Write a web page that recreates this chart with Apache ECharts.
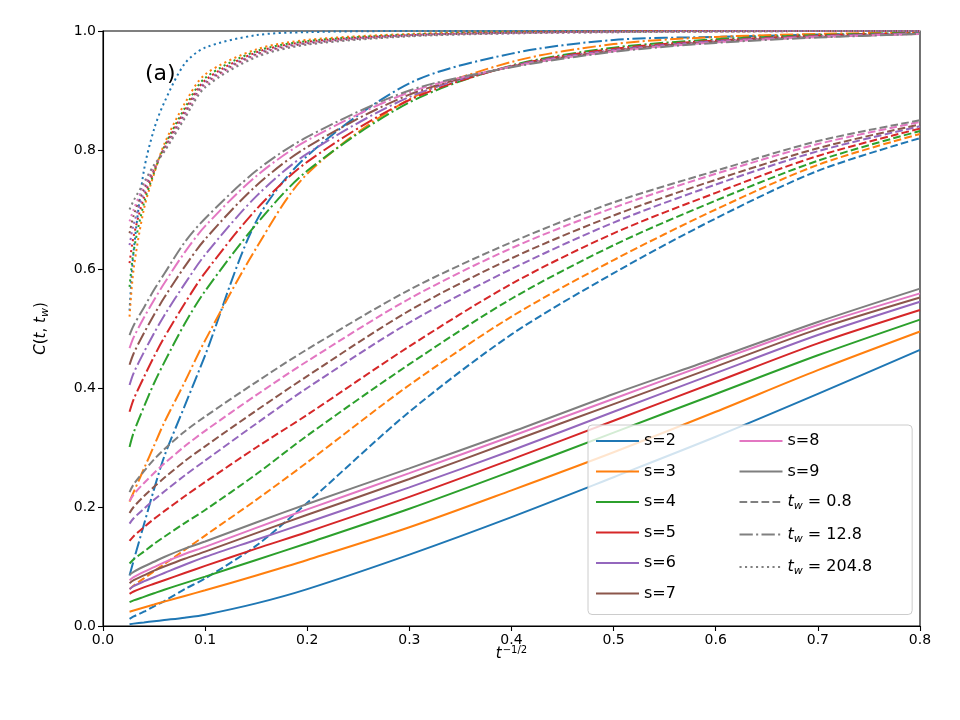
<!DOCTYPE html>
<html>
<head>
<meta charset="utf-8">
<script src="https://cdn.jsdelivr.net/npm/echarts@6/dist/echarts.min.js"></script>
<style>
  html, body { margin: 0; background: #fff; }
  #chart { width: 960px; height: 720px; }
</style>
</head>
<body>
<div id="chart"></div>
<script>
// t^(-1/2) sample points shared by every curve
const xs = [0.026, 0.03, 0.04, 0.05, 0.06, 0.08, 0.1, 0.15, 0.2, 0.3, 0.4, 0.5, 0.6, 0.7, 0.8];

const sNames = ["s=2", "s=3", "s=4", "s=5", "s=6", "s=7", "s=8", "s=9"];
const twNames = ["t_w = 0.8", "t_w = 12.8", "t_w = 204.8"];
const colors = ["#1f77b4", "#ff7f0e", "#2ca02c", "#d62728", "#9467bd", "#8c564b", "#e377c2", "#7f7f7f"];

// solid curves, one row per s
const solidRows = [
  [0.003, 0.004, 0.006, 0.008, 0.010, 0.014, 0.019, 0.038, 0.062, 0.120, 0.183, 0.250, 0.318, 0.390, 0.464],
  [0.024, 0.026, 0.031, 0.036, 0.041, 0.0505, 0.060, 0.085, 0.111, 0.166, 0.228, 0.292, 0.360, 0.430, 0.495],
  [0.040, 0.043, 0.049, 0.055, 0.061, 0.072, 0.083, 0.111, 0.139, 0.197, 0.260, 0.325, 0.390, 0.455, 0.515],
  [0.054, 0.058, 0.065, 0.071, 0.077, 0.089, 0.101, 0.130, 0.158, 0.217, 0.280, 0.345, 0.410, 0.475, 0.531],
  [0.062, 0.067, 0.075, 0.082, 0.089, 0.103, 0.116, 0.145, 0.174, 0.233, 0.295, 0.360, 0.425, 0.489, 0.545],
  [0.072, 0.077, 0.085, 0.093, 0.100, 0.113, 0.125, 0.156, 0.187, 0.247, 0.310, 0.373, 0.436, 0.499, 0.552],
  [0.077, 0.082, 0.091, 0.099, 0.107, 0.121, 0.133, 0.165, 0.196, 0.257, 0.319, 0.382, 0.445, 0.506, 0.559],
  [0.086, 0.091, 0.100, 0.108, 0.116, 0.130, 0.142, 0.174, 0.205, 0.265, 0.326, 0.390, 0.450, 0.511, 0.567]
];

// t_w = 0.8 (dashed)
const tw08Rows = [
  [0.012, 0.016, 0.024, 0.033, 0.042, 0.062, 0.080, 0.135, 0.207, 0.360, 0.490, 0.593, 0.685, 0.765, 0.820],
  [0.062, 0.068, 0.080, 0.092, 0.104, 0.128, 0.152, 0.212, 0.275, 0.405, 0.520, 0.615, 0.700, 0.775, 0.827],
  [0.105, 0.112, 0.125, 0.138, 0.150, 0.173, 0.195, 0.255, 0.320, 0.440, 0.550, 0.640, 0.715, 0.782, 0.832],
  [0.143, 0.151, 0.166, 0.180, 0.193, 0.218, 0.242, 0.300, 0.355, 0.470, 0.575, 0.660, 0.728, 0.790, 0.836],
  [0.172, 0.181, 0.197, 0.212, 0.226, 0.253, 0.278, 0.340, 0.400, 0.510, 0.600, 0.678, 0.742, 0.798, 0.840],
  [0.190, 0.200, 0.218, 0.234, 0.249, 0.277, 0.302, 0.362, 0.420, 0.530, 0.618, 0.690, 0.750, 0.803, 0.843],
  [0.210, 0.221, 0.240, 0.257, 0.273, 0.302, 0.328, 0.388, 0.445, 0.550, 0.635, 0.703, 0.760, 0.810, 0.847],
  [0.225, 0.238, 0.260, 0.280, 0.297, 0.327, 0.352, 0.410, 0.465, 0.565, 0.645, 0.712, 0.765, 0.815, 0.850]
];

// t_w = 12.8 (dash-dot)
const tw128Rows = [
  [0.085, 0.110, 0.170, 0.230, 0.285, 0.370, 0.455, 0.680, 0.790, 0.912, 0.962, 0.985, 0.990, 0.994, 0.996],
  [0.209, 0.225, 0.264, 0.303, 0.342, 0.410, 0.480, 0.635, 0.760, 0.885, 0.948, 0.978, 0.990, 0.995, 0.998],
  [0.301, 0.325, 0.368, 0.408, 0.443, 0.508, 0.563, 0.675, 0.765, 0.880, 0.942, 0.972, 0.986, 0.993, 0.997],
  [0.360, 0.381, 0.418, 0.453, 0.485, 0.542, 0.594, 0.700, 0.780, 0.884, 0.941, 0.970, 0.984, 0.992, 0.996],
  [0.405, 0.425, 0.460, 0.492, 0.522, 0.575, 0.624, 0.722, 0.794, 0.889, 0.941, 0.968, 0.983, 0.991, 0.996],
  [0.439, 0.458, 0.492, 0.523, 0.552, 0.604, 0.650, 0.740, 0.805, 0.893, 0.940, 0.967, 0.982, 0.990, 0.995],
  [0.467, 0.485, 0.518, 0.548, 0.576, 0.628, 0.672, 0.756, 0.816, 0.897, 0.940, 0.966, 0.981, 0.990, 0.995],
  [0.489, 0.505, 0.535, 0.565, 0.592, 0.645, 0.685, 0.765, 0.822, 0.900, 0.939, 0.965, 0.980, 0.989, 0.995]
];

// t_w = 204.8 (dotted)
const tw2048Rows = [
  [0.530, 0.630, 0.765, 0.835, 0.880, 0.945, 0.972, 0.993, 0.998, 1.000, 1.000, 1.000, 1.000, 1.000, 1.000],
  [0.520, 0.600, 0.700, 0.760, 0.810, 0.878, 0.927, 0.969, 0.985, 0.995, 0.998, 0.999, 1.000, 1.000, 1.000],
  [0.570, 0.630, 0.710, 0.762, 0.806, 0.870, 0.921, 0.966, 0.983, 0.994, 0.998, 0.999, 1.000, 1.000, 1.000],
  [0.610, 0.655, 0.720, 0.765, 0.804, 0.866, 0.917, 0.964, 0.982, 0.993, 0.997, 0.999, 1.000, 1.000, 1.000],
  [0.640, 0.675, 0.728, 0.768, 0.802, 0.862, 0.914, 0.962, 0.980, 0.993, 0.997, 0.999, 1.000, 1.000, 1.000],
  [0.660, 0.690, 0.735, 0.770, 0.800, 0.859, 0.911, 0.960, 0.979, 0.992, 0.997, 0.999, 0.999, 1.000, 1.000],
  [0.680, 0.700, 0.740, 0.772, 0.798, 0.856, 0.908, 0.958, 0.978, 0.992, 0.996, 0.998, 0.999, 1.000, 1.000],
  [0.700, 0.715, 0.745, 0.775, 0.797, 0.853, 0.905, 0.956, 0.977, 0.991, 0.996, 0.998, 0.999, 1.000, 1.000]
];

const FONT = "DejaVu Sans";
const dashes = {
  solid: "solid",
  dashed: [7.7, 3.3],
  dashdot: [13.3, 3.3, 2.1, 3.3],
  dotted: [2.1, 3.4]
};

const groups = [
  { rows: solidRows, dash: dashes.solid, tag: "" },
  { rows: tw08Rows, dash: dashes.dashed, tag: twNames[0] },
  { rows: tw128Rows, dash: dashes.dashdot, tag: twNames[1] },
  { rows: tw2048Rows, dash: dashes.dotted, tag: twNames[2] }
];

const series = [];
sNames.forEach((s, i) => {
  groups.forEach((g) => {
    series.push({
      type: "line",
      name: g.tag ? s + " " + g.tag : s,
      data: xs.map((x, k) => [x, g.rows[i][k]]),
      symbol: "none",
      smooth: 0.3,
      color: colors[i],
      lineStyle: { color: colors[i], width: 2, type: g.dash, cap: "butt" },
      z: 2
    });
  });
});
// grey entries for the t_w legend rows
[dashes.dashed, dashes.dashdot, dashes.dotted].forEach((d, j) => {
  series.push({
    type: "line",
    name: twNames[j],
    data: [],
    symbol: "none",
    color: "#808080",
    lineStyle: { color: "#808080", width: 2, type: d, cap: "butt" }
  });
});

const chart = echarts.init(document.getElementById("chart"), null, { renderer: "canvas" });

const richLegend = {
  i: { fontSize: 16, fontStyle: "italic", fontFamily: FONT, color: "#000", lineHeight: 20 },
  n: { fontSize: 16, fontFamily: FONT, color: "#000", lineHeight: 20 },
  s: { fontSize: 16, fontFamily: FONT, color: "#000", lineHeight: 20, width: 80 },
  sub: { fontSize: 11, fontStyle: "italic", fontFamily: FONT, color: "#000", verticalAlign: "bottom" }
};

const option = {
  animation: false,
  backgroundColor: "#fff",
  textStyle: { fontFamily: FONT },
  grid: {
    left: 103, right: 40, top: 31, bottom: 94,
    show: true, borderColor: "#000", borderWidth: 1.1, backgroundColor: "transparent"
  },
  xAxis: {
    type: "value",
    min: 0, max: 0.8, interval: 0.1,
    axisLine: { lineStyle: { color: "#000", width: 1.1 } },
    axisTick: { length: 5, lineStyle: { color: "#000", width: 1.1 } },
    axisLabel: { color: "#000", fontSize: 14, fontFamily: FONT, margin: 7, formatter: (v) => v.toFixed(1) },
    splitLine: { show: false },
    name: "{i|t}{sup|−1/2}",
    nameLocation: "middle",
    nameGap: 19,
    nameMoveOverlap: false,
    nameTextStyle: {
      rich: {
        i: { fontSize: 15, fontStyle: "italic", fontFamily: FONT, color: "#000", lineHeight: 18 },
        sup: { fontSize: 10, fontFamily: FONT, color: "#000", verticalAlign: "top", padding: [0, 0, 0, 1] }
      }
    }
  },
  yAxis: {
    type: "value",
    min: 0, max: 1, interval: 0.2,
    axisLine: { lineStyle: { color: "#000", width: 1.1 } },
    axisTick: { length: 5, lineStyle: { color: "#000", width: 1.1 } },
    axisLabel: { color: "#000", fontSize: 14, fontFamily: FONT, margin: 7, formatter: (v) => v.toFixed(1) },
    splitLine: { show: false },
    name: "{i|C}{n|(}{i|t}{n|, }{i|t}{sub|w}{n|)}",
    nameLocation: "middle",
    nameRotate: 90,
    nameGap: 52,
    nameMoveOverlap: false,
    nameTextStyle: {
      rich: {
        i: { fontSize: 15, fontStyle: "italic", fontFamily: FONT, color: "#000", lineHeight: 20 },
        n: { fontSize: 15, fontFamily: FONT, color: "#000", lineHeight: 20 },
        sub: { fontSize: 11, fontStyle: "italic", fontFamily: FONT, color: "#000", verticalAlign: "bottom" }
      }
    }
  },
  legend: {
    data: sNames.concat(twNames),
    orient: "vertical",
    left: 588,
    top: 425,
    height: 180,
    padding: [8, 40, 13, 7],
    itemWidth: 43,
    itemHeight: 16,
    itemGap: 14.5,
    backgroundColor: "rgba(255,255,255,0.8)",
    borderColor: "#cccccc",
    borderWidth: 1,
    borderRadius: 4,
    selectedMode: false,
    itemStyle: { opacity: 0 },
    formatter: (name) => {
      if (name.startsWith("t_w")) return "{i|t}{sub|w}{n|" + name.slice(3) + "}";
      return "{s|" + name + "}";
    },
    textStyle: {
      color: "#000",
      fontFamily: FONT,
      fontSize: 16,
      rich: richLegend
    }
  },
  graphic: [
    {
      type: "text",
      left: 145,
      top: 63,
      style: { text: "(a)", fontSize: 22, fontFamily: FONT, fill: "#000" }
    }
  ],
  series: series
};

chart.setOption(option);
</script>
</body>
</html>
